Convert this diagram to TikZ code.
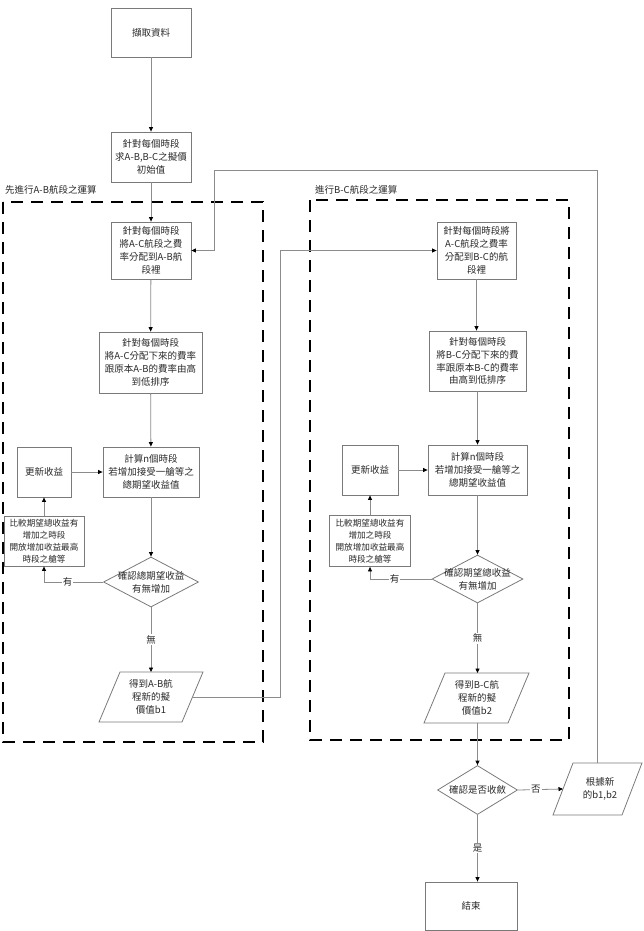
\documentclass[tikz,border=0pt]{standalone}
\usepackage{fontspec}
\setmainfont{Noto Sans CJK TC}
\usetikzlibrary{arrows.meta,shapes.geometric,calc}
\definecolor{lnc}{HTML}{8C8C8C}
\definecolor{bdc}{HTML}{7A7A7A}
\definecolor{txc}{HTML}{2A2A2A}
\tikzset{
  box/.style={draw=bdc, line width=0.8pt, fill=white, inner sep=0.5pt, align=center, text=txc, font=\fontsize{9.5}{12.8}\selectfont},
  smallbox/.style={box, font=\fontsize{8.6}{12}\selectfont},
  txt/.style={inner sep=0pt, align=center, text=txc, font=\fontsize{9.5}{12.8}\selectfont},
  dia/.style={diamond, draw=bdc, line width=0.8pt, fill=white, inner sep=0pt},
  para/.style={draw=bdc, line width=0.8pt, fill=white},
  conn/.style={draw=lnc, line width=0.8pt, -{Triangle[length=4.5pt,width=4pt,color=black,fill=black]}},
  plain/.style={draw=lnc, line width=0.8pt},
  lbl/.style={fill=white, inner sep=1pt, text=txc, font=\fontsize{9.5}{11}\selectfont},
  frame/.style={draw=black, line width=2.6pt, dash pattern=on 12pt off 8pt},
  ftitle/.style={anchor=west, inner sep=0pt, text=txc, font=\fontsize{9.5}{11}\selectfont}
}
\begin{document}
\begin{tikzpicture}[x=1pt,y=-1pt]
\useasboundingbox[fill=white] (0,0) rectangle (643,931);

% dashed frames
\draw[frame] (3,202) rectangle (263,742);
\draw[frame] (310,200) rectangle (569,740);
\node[ftitle] (ft1) at (5,190) {先進行A-B航段之運算};
\node[ftitle] (ft2) at (315,190) {進行B-C航段之運算};

% top
\node[box, minimum width=80, minimum height=49] (start) at (151,32.5) {擷取資料};
\node[box, minimum width=80, minimum height=50] (init) at (151,157) {針對每個時段\\求A-B,B-C之擬價\\初始值};

% left column
\node[box, minimum width=80, minimum height=57] (a1) at (151,250.5) {針對每個時段\\將A-C航段之費\\率分配到A-B航\\段裡};
\node[box, minimum width=103, minimum height=61] (a2) at (150.5,362.5) {針對每個時段\\將A-C分配下來的費率\\跟原本A-B的費率由高\\到低排序};
\node[box, minimum width=96, minimum height=50] (a3) at (151,472) {計算n個時段\\若增加接受一艙等之\\總期望收益值};
\node[box, minimum width=54, minimum height=50] (au) at (44,472) {更新收益};
\node[smallbox, minimum width=80, minimum height=50] (ac) at (44,541) {比較期望總收益有\\增加之時段\\開放增加收益最高\\時段之艙等};
\node[dia, minimum width=95, minimum height=50] (ad) at (151,582) {};
\node[txt] (adt) at (ad) {確認總期望收益\\有無增加};
% parallelogram b1
\coordinate (p1c) at (151,697);
\draw[para] (99,722) -- (120,672) -- (203,672) -- (182,722) -- cycle;
\node[txt] (p1t) at (p1c) {得到A-B航\\程新的擬\\價值b1};
\coordinate (p1top) at (151,672);
\coordinate (p1r) at (192.5,697);

% right column
\node[box, minimum width=79, minimum height=57] (b1) at (476.5,250.5) {針對每個時段將\\A-C航段之費率\\分配到B-C的航\\段裡};
\node[box, minimum width=97, minimum height=60] (b2) at (477.5,361) {針對每個時段\\將B-C分配下來的費\\率跟原本B-C的費率\\由高到低排序};
\node[box, minimum width=99, minimum height=50] (b3) at (477.5,470) {計算n個時段\\若增加接受一艙等之\\總期望收益值};
\node[box, minimum width=56, minimum height=50] (bu) at (370,470) {更新收益};
\node[smallbox, minimum width=81, minimum height=51] (bc) at (370,541) {比較期望總收益有\\增加之時段\\開放增加收益最高\\時段之艙等};
\node[dia, minimum width=91, minimum height=48] (bd) at (477.5,579) {};
\node[txt] (bdt) at (bd) {確認期望總收益\\有無增加};
% parallelogram b2
\coordinate (p2c) at (477,698);
\draw[para] (424,723) -- (445,673) -- (529,673) -- (508,723) -- cycle;
\node[txt] (p2t) at (p2c) {得到B-C航\\程新的擬\\價值b2};
\coordinate (p2top) at (477.5,673);
\coordinate (p2bot) at (477.5,723);

% convergence
\node[dia, minimum width=80, minimum height=49] (cd) at (477.5,790) {};
\node[txt] (cdt) at (cd) {確認是否收斂};
\coordinate (p3c) at (598,789);
\draw[para] (553,815) -- (573,763) -- (642,763) -- (622,815) -- cycle;
\node[txt] (p3t) at (600,789) {根據新\\的b1,b2};
\coordinate (p3l) at (563,789);
\coordinate (p3top) at (597,763);
\node[box, minimum width=92, minimum height=48] (end) at (471,906) {結束};

% connectors left
\draw[conn] (start) -- (init);
\draw[conn] (init) -- (a1);
\draw[conn] (a1) -- (a2);
\draw[conn] (a2) -- (a3);
\draw[conn] (a3) -- (ad);
\draw[conn] (ad.west) -| (ac.south) node[lbl, pos=0.3] {有};
\draw[conn] (ac) -- (au);
\draw[conn] (au) -- (a3);
\draw[conn] (ad.south) -- (p1top) node[lbl, midway] {無};
\draw[conn] (p1r) -- (280,697) -- (280,250.5) -- (b1.west);

% connectors right
\draw[conn] (b1) -- (b1 |- b2.north);
\draw[conn] (b2) -- (b2 |- b3.north);
\draw[conn] (b3) -- (bd);
\draw[conn] (bd.west) -| (bc.south) node[lbl, pos=0.3] {有};
\draw[conn] (bc) -- (bu);
\draw[conn] (bu) -- (b3);
\draw[conn] (bd.south) -- (p2top) node[lbl, midway] {無};
\draw[conn] (p2bot) -- (cd.north);
\draw[conn] (cd.east) -- (p3l) node[lbl, pos=0.4] {否};
\draw[conn] (cd.south) -- (cd.south |- end.north) node[lbl, midway] {是};
\draw[conn] (p3top) -- (597,170) -- (214,170) -- (214,250.5) -- (a1.east);
\end{tikzpicture}
\end{document}
